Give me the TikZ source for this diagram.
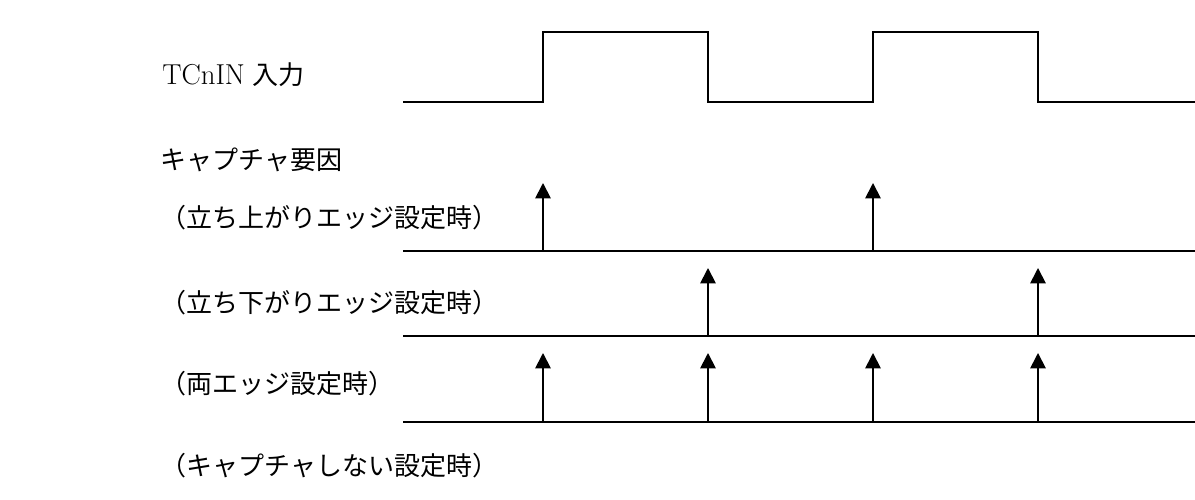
\documentclass[tikz,border=0pt]{standalone}
\usepackage{fontspec}
\newfontfamily\jpfont{Noto Sans CJK JP}
\usetikzlibrary{arrows.meta}

\tikzset{
  sig/.style={line width=1.3pt},
  trig/.style={line width=1.3pt,-{Triangle[width=11pt,length=11pt]}},
  lbl/.style={anchor=base west,inner sep=0pt,font=\fontsize{18.5}{22}\selectfont}
}

\begin{document}
\begin{tikzpicture}
	\useasboundingbox (0,0) rectangle (29.875,12.5);
	% labels
	\node[lbl] (inlbl) at (4.05,10.375) {{\fontsize{20.5}{24}\selectfont TCnIN} {\jpfont 入力}};
	\node[lbl] (caplbl) at (4.0,8.25) {\jpfont キャプチャ要因};
	\node[lbl] (riselbl) at (4.0,6.8) {\jpfont （立ち上がりエッジ設定時）};
	\node[lbl] (falllbl) at (4.0,4.675) {\jpfont （立ち下がりエッジ設定時）};
	\node[lbl] (bothlbl) at (4.0,2.65) {\jpfont （両エッジ設定時）};
	\node[lbl] (nonelbl) at (4.0,0.6) {\jpfont （キャプチャしない設定時）};
	% edges of the input
	\coordinate (s0) at (10.075,9.95);
	\coordinate (e1) at (13.575,9.95);
	\coordinate (e2) at (17.7,9.95);
	\coordinate (e3) at (21.825,9.95);
	\coordinate (e4) at (25.95,9.95);
	\coordinate (s9) at (29.875,9.95);
	% input signal
	\draw[sig] (s0) -- (e1) -- ++(0,1.75) -| (e2) -- (e3) -- ++(0,1.75) -| (e4) -- (s9);
	% base lines
	\coordinate (rise) at (10.075,6.225);
	\coordinate (fall) at (10.075,4.1);
	\coordinate (both) at (10.075,1.95);
	\foreach \b in {rise,fall,both}
		\draw[sig] (\b) -- (\b -| s9);
	% rising edge
	\foreach \e in {e1,e3} {
		\coordinate (\e r) at (\e |- rise);
		\coordinate (\e rt) at ([yshift=1.7cm]\e r);
		\draw[trig] (\e r) -- (\e rt);
	}
	% falling edge
	\foreach \e in {e2,e4} {
		\coordinate (\e f) at (\e |- fall);
		\coordinate (\e ft) at ([yshift=1.7cm]\e f);
		\draw[trig] (\e f) -- (\e ft);
	}
	% both edges
	\foreach \e in {e1,e2,e3,e4} {
		\coordinate (\e b) at (\e |- both);
		\coordinate (\e bt) at ([yshift=1.725cm]\e b);
		\draw[trig] (\e b) -- (\e bt);
	}
\end{tikzpicture}
\end{document}
